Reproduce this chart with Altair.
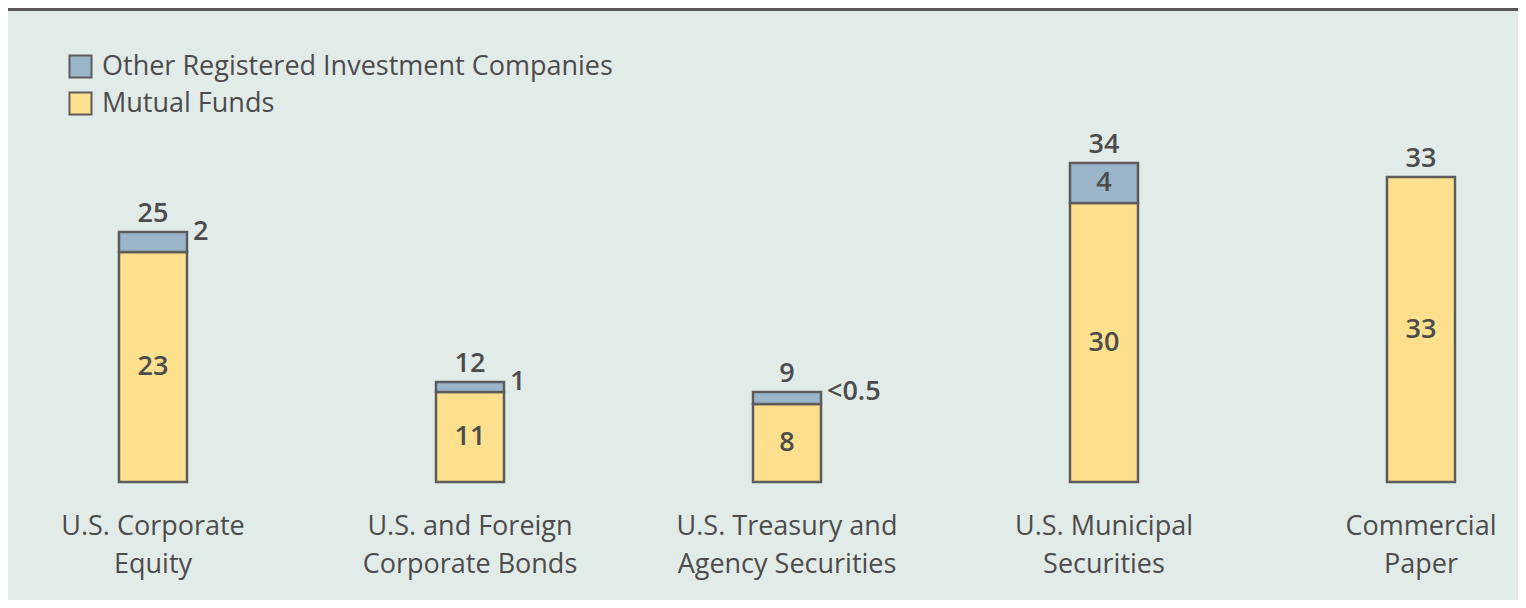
import altair as alt
import pandas as pd

# ---- data ----
categories = [
    "U.S. Corporate\nEquity",
    "U.S. and Foreign\nCorporate Bonds",
    "U.S. Treasury and\nAgency Securities",
    "U.S. Municipal\nSecurities",
    "Commercial\nPaper",
]
mutual_funds = [23.0, 9.0, 7.8, 27.9, 30.5]   # plotted heights
other_ric = [2.0, 1.0, 1.2, 4.0, 0.0]         # plotted heights
mutual_labels = ["23", "11", "8", "30", "33"]
other_labels = ["2", "1", "<0.5", "4", ""]
other_label_inside = [False, False, False, True, False]
total_labels = ["25", "12", "9", "34", "33"]
series_names = ["Other Registered Investment Companies", "Mutual Funds"]

# ---- styling ----
FONT = "Open Sans"
TXT = "#4c4c4c"
EDGE = "#5c5c5c"
BLUE = "#9bb6cb"
YELLOW = "#ffe08e"
BG = "#e1ebe8"
W, H = 1510, 474

rows = []
for i in range(len(categories)):
    m, o = mutual_funds[i], other_ric[i]
    rows.append(dict(idx=i, series=series_names[1], start=0.0, end=m,
                     mid=m / 2, label=mutual_labels[i]))
    if o > 0:
        rows.append(dict(idx=i, series=series_names[0], start=m, end=m + o,
                         mid=m + o / 2, label=other_labels[i]))
bars_df = pd.DataFrame(rows)

tot_df = pd.DataFrame(dict(idx=range(len(categories)),
                           total=[m + o for m, o in zip(mutual_funds, other_ric)],
                           label=total_labels, cat=categories))

side_df = pd.DataFrame([dict(idx=i, top=mutual_funds[i] + other_ric[i], label=other_labels[i])
                        for i in range(len(categories))
                        if other_ric[i] > 0 and not other_label_inside[i]])
inside_other_df = pd.DataFrame([dict(idx=i, mid=mutual_funds[i] + other_ric[i] / 2, label=other_labels[i])
                                for i in range(len(categories))
                                if other_ric[i] > 0 and other_label_inside[i]])
mutual_df = bars_df[bars_df.series == series_names[1]]

xs = alt.Scale(domain=[-0.4574, 4.306], nice=False, zero=False, padding=0)
ys = alt.Scale(domain=[0, 47.4], nice=False, zero=True)
X = alt.X("idx:Q", scale=xs, axis=None)

bars = alt.Chart(bars_df).mark_bar(size=68, stroke=EDGE, strokeWidth=2.5).encode(
    x=X,
    y=alt.Y("end:Q", scale=ys, axis=None),
    y2="start:Q",
    color=alt.Color(
        "series:N",
        scale=alt.Scale(domain=series_names, range=[BLUE, YELLOW]),
        legend=alt.Legend(
            title=None, orient="none", legendX=59, legendY=45,
            symbolType="square", symbolSize=484, symbolStrokeColor=EDGE,
            symbolStrokeWidth=2, symbolOpacity=1,
            labelFont=FONT, labelFontSize=27, labelColor=TXT,
            labelOffset=8, rowPadding=6, padding=0, labelLimit=800,
        ),
    ),
)

num_style = dict(font=FONT, fontSize=27, fontWeight=600, color=TXT)

mutual_txt = alt.Chart(mutual_df).mark_text(baseline="middle", align="center", **num_style).encode(
    x=X, y=alt.Y("mid:Q", scale=ys), text="label:N")

inside_other_txt = alt.Chart(inside_other_df).mark_text(baseline="middle", align="center", **num_style).encode(
    x=X, y=alt.Y("mid:Q", scale=ys), text="label:N")

side_txt = alt.Chart(side_df).mark_text(baseline="middle", align="left", dx=40, **num_style).encode(
    x=X, y=alt.Y("top:Q", scale=ys), text="label:N")

total_txt = alt.Chart(tot_df).mark_text(baseline="alphabetic", align="center", dy=-10, **num_style).encode(
    x=X, y=alt.Y("total:Q", scale=ys), text="label:N")

cat_txt = alt.Chart(tot_df).mark_text(
    baseline="alphabetic", align="center", lineBreak="\n", lineHeight=38,
    font=FONT, fontSize=27, color=TXT,
).encode(x=X, y=alt.value(H + 53), text="cat:N")

top_rule = alt.Chart(pd.DataFrame({"k": [0]})).mark_rule(color="#555555", strokeWidth=3).encode(
    x=alt.value(0), x2=alt.value(W), y=alt.value(1.5))

chart = alt.layer(top_rule, bars, mutual_txt, inside_other_txt, side_txt, total_txt, cat_txt).properties(
    width=W, height=H,
    autosize=alt.AutoSizeParams(type="none"),
    padding={"left": 0, "top": 0, "right": 0, "bottom": 118},
    background=BG,
).configure_view(stroke=None)

chart.save("out.html", embed_options={"renderer": "svg", "actions": False})
